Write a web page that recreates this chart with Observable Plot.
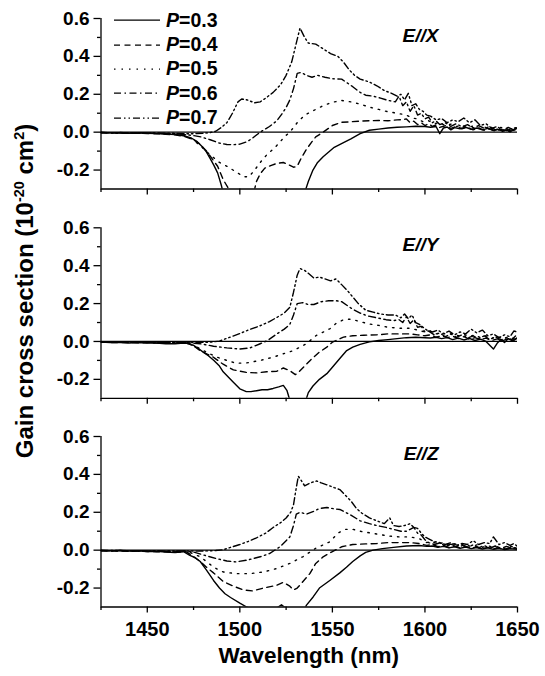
<!DOCTYPE html>
<html>
<head>
<meta charset="utf-8">
<script src="https://cdn.jsdelivr.net/npm/d3@7"></script>
<script src="https://cdn.jsdelivr.net/npm/@observablehq/plot@0.6"></script>
<style>
  html, body { margin: 0; padding: 0; background: #fff; }
  #fig { position: relative; width: 545px; height: 676px; background: #fff; overflow: hidden;
         font-family: "Liberation Sans", Arial, sans-serif; font-weight: bold; color: #000; }
  #fig svg.panel { position: absolute; left: 0; }
  .sup { font-size: 0.6em; position: relative; top: -0.62em; line-height: 0; }
</style>
</head>
<body>
<div id="fig"></div>
<script>
// ---------- tick values and labels ----------
const wavelengthMajorTicks = [1450, 1500, 1550, 1600, 1650];
const wavelengthMinorTicks = [1425, 1475, 1525, 1575, 1625];
const gainMajorTicks = [-0.2, 0, 0.2, 0.4, 0.6];
const gainMinorTicks = [-0.1, 0.1, 0.3, 0.5];
const pumpLevels = ["0.3", "0.4", "0.5", "0.6", "0.7"];
const panelLabels = ["E//X", "E//Y", "E//Z"];

// ---------- E//X : [wavelength (nm), gain cross section (1e-20 cm^2)] ----------
const X_P03 = [[1425,-0.002],[1430,-0.004],[1435,-0.003],[1440,-0.006],[1445,-0.004],[1450,-0.006],[1455,-0.007],[1460,-0.01],[1465,-0.012],[1468,-0.016],[1471,-0.022],[1474,-0.032],[1477,-0.05],[1480,-0.08],[1482,-0.105],[1484,-0.14],[1486,-0.175],[1488,-0.215],[1490,-0.28],[1491,-0.32],[1495,-0.45],[1505,-0.6],[1520,-0.6],[1530,-0.5],[1533,-0.38],[1535,-0.32],[1537,-0.26],[1539.5,-0.2],[1542,-0.16],[1545,-0.13],[1551,-0.08],[1556,-0.055],[1560,-0.035],[1565,-0.008],[1570,0.01],[1575,0.016],[1580,0.022],[1585,0.026],[1590,0.028],[1595,0.031],[1600,0.03],[1603,0.026],[1606,0.03],[1608,-0.008],[1610,0.022],[1612,0.027],[1614,0.012],[1616,0.024],[1619,0.018],[1622,0.026],[1625,0.015],[1628,0.022],[1631,0.012],[1634,0.02],[1637,0.008],[1640,0.015],[1642,0.004],[1644,0.012],[1646,0.002],[1648,0.014],[1650,0.02]];
const X_P04 = [[1425,-0.003],[1430,-0.005],[1435,-0.004],[1440,-0.006],[1445,-0.005],[1450,-0.007],[1455,-0.008],[1460,-0.011],[1465,-0.014],[1470,-0.022],[1475,-0.04],[1478,-0.06],[1482,-0.1],[1485,-0.14],[1488,-0.18],[1491,-0.25],[1494,-0.3],[1497,-0.36],[1503,-0.4],[1507,-0.34],[1509,-0.26],[1511,-0.22],[1513.5,-0.19],[1517,-0.175],[1520,-0.165],[1523.5,-0.16],[1526,-0.17],[1529,-0.185],[1531,-0.18],[1533,-0.14],[1536,-0.09],[1539,-0.05],[1541,-0.025],[1545,0],[1550,0.035],[1555,0.052],[1560,0.055],[1565,0.058],[1570,0.06],[1575,0.062],[1580,0.06],[1585,0.065],[1588,0.066],[1590,0.07],[1592,0.05],[1594,0.058],[1596,0.04],[1598,0.05],[1600,0.035],[1602,0.045],[1604,0.03],[1606,0.038],[1608,0.025],[1611,0.034],[1614,0.02],[1617,0.03],[1620,0.018],[1623,0.026],[1626,0.012],[1629,0.022],[1632,0.01],[1635,0.018],[1638,0.006],[1641,0.015],[1644,0.004],[1647,0.012],[1650,0.016]];
const X_P05 = [[1425,-0.002],[1430,-0.004],[1435,-0.005],[1440,-0.004],[1445,-0.006],[1450,-0.005],[1455,-0.007],[1460,-0.008],[1465,-0.01],[1470,-0.018],[1474,-0.035],[1478.5,-0.07],[1484,-0.12],[1489,-0.16],[1493,-0.18],[1498,-0.21],[1502,-0.235],[1505,-0.235],[1508,-0.2],[1511,-0.16],[1514.5,-0.12],[1518,-0.09],[1521,-0.06],[1524,-0.025],[1527,0],[1531,0.05],[1535,0.09],[1540,0.115],[1545,0.14],[1550,0.158],[1555,0.167],[1560,0.16],[1565,0.148],[1570,0.132],[1575,0.12],[1580,0.108],[1585,0.1],[1590,0.09],[1593,0.075],[1596,0.07],[1599,0.055],[1602,0.06],[1605,0.045],[1608,0.05],[1611,0.035],[1614,0.042],[1617,0.03],[1620,0.036],[1623,0.025],[1626,0.032],[1629,0.02],[1632,0.028],[1635,0.015],[1638,0.022],[1641,0.01],[1644,0.018],[1647,0.008],[1650,0.015]];
const X_P06 = [[1425,-0.002],[1430,-0.003],[1435,-0.005],[1440,-0.004],[1445,-0.006],[1450,-0.005],[1455,-0.006],[1460,-0.007],[1465,-0.008],[1470,-0.012],[1475,-0.018],[1479,-0.025],[1484,-0.04],[1489,-0.058],[1493,-0.065],[1497,-0.066],[1500,-0.063],[1504,-0.05],[1507,-0.03],[1511,0],[1516,0.03],[1520,0.06],[1523,0.1],[1525,0.13],[1527,0.17],[1529,0.23],[1531,0.31],[1533,0.315],[1536,0.3],[1539,0.29],[1542,0.3],[1546,0.29],[1550,0.282],[1555,0.28],[1558,0.26],[1561,0.24],[1565,0.21],[1568,0.195],[1572,0.19],[1576,0.18],[1580,0.168],[1584,0.16],[1586,0.19],[1588,0.14],[1590,0.16],[1592,0.11],[1594,0.14],[1596,0.09],[1598,0.1],[1600,0.07],[1602,0.08],[1604,0.05],[1606,0.06],[1608,0.04],[1611,0.05],[1614,0.03],[1617,0.045],[1620,0.028],[1623,0.04],[1626,0.022],[1629,0.035],[1632,0.02],[1635,0.03],[1638,0.012],[1641,0.025],[1644,0.008],[1647,0.02],[1650,0.025]];
const X_P07 = [[1425,-0.001],[1430,-0.003],[1435,-0.002],[1440,-0.004],[1445,-0.003],[1450,-0.005],[1455,-0.004],[1460,-0.006],[1465,-0.006],[1470,-0.008],[1475,-0.008],[1480,-0.006],[1484,-0.002],[1487,0.005],[1490,0.025],[1493,0.05],[1496,0.1],[1499,0.16],[1501,0.175],[1504,0.17],[1508,0.155],[1511,0.16],[1514,0.18],[1518,0.21],[1522,0.25],[1525,0.3],[1528,0.37],[1530,0.45],[1532.5,0.55],[1535,0.5],[1537,0.47],[1541,0.465],[1545,0.44],[1549,0.415],[1553,0.4],[1556,0.37],[1559,0.33],[1562,0.3],[1565,0.28],[1570,0.265],[1574,0.245],[1578,0.22],[1582,0.205],[1585,0.19],[1587,0.2],[1589,0.17],[1591,0.205],[1593,0.14],[1595,0.15],[1597,0.12],[1599,0.11],[1601,0.09],[1603,0.085],[1606,0.065],[1609,0.072],[1612,0.05],[1615,0.065],[1618,0.055],[1621,0.075],[1624,0.05],[1627,0.065],[1630,0.035],[1633,0.045],[1636,0.02],[1639,0.03],[1642,0.01],[1645,0.025],[1648,0.012],[1650,0.03]];

// ---------- E//Y ----------
const Y_P03 = [[1425,-0.003],[1430,-0.006],[1435,-0.004],[1440,-0.008],[1445,-0.006],[1450,-0.009],[1455,-0.008],[1460,-0.012],[1465,-0.012],[1468,-0.01],[1471,-0.008],[1473,-0.015],[1475,-0.02],[1478,-0.04],[1480,-0.055],[1483,-0.075],[1486,-0.1],[1489,-0.13],[1491,-0.16],[1494,-0.19],[1496.5,-0.215],[1500,-0.25],[1503.5,-0.265],[1506,-0.265],[1509,-0.26],[1512,-0.255],[1515,-0.255],[1518,-0.248],[1521,-0.24],[1523.5,-0.232],[1525.5,-0.26],[1527,-0.31],[1529,-0.45],[1533,-0.45],[1535,-0.33],[1537,-0.27],[1539.5,-0.235],[1543,-0.2],[1547,-0.17],[1550,-0.136],[1554,-0.09],[1557.5,-0.05],[1561,-0.03],[1565,-0.015],[1570,-0.002],[1575,0.005],[1580,0.01],[1585,0.015],[1590,0.02],[1595,0.022],[1600,0.02],[1603,0.018],[1606,0.022],[1609,0.015],[1612,0.02],[1615,0.01],[1618,0.018],[1621,0.008],[1624,0.016],[1627,0.005],[1630,0.012],[1633,0.0],[1635,-0.02],[1637,-0.04],[1639,-0.01],[1641,0.01],[1643,-0.005],[1645,0.015],[1647,0.005],[1650,0.018]];
const Y_P04 = [[1425,-0.003],[1430,-0.005],[1435,-0.006],[1440,-0.005],[1445,-0.007],[1450,-0.006],[1455,-0.008],[1460,-0.009],[1465,-0.01],[1470,-0.008],[1473,-0.012],[1476,-0.03],[1478.5,-0.048],[1482,-0.065],[1486,-0.085],[1491,-0.12],[1496.5,-0.15],[1503.5,-0.163],[1509,-0.166],[1514.5,-0.16],[1520,-0.157],[1523.5,-0.14],[1527,-0.154],[1530,-0.175],[1532,-0.16],[1535,-0.13],[1538,-0.1],[1543,-0.056],[1547,-0.03],[1550,-0.004],[1556,0.023],[1561,0.03],[1567,0.033],[1574,0.035],[1580,0.04],[1586,0.04],[1592,0.04],[1596,0.035],[1600,0.03],[1603,0.035],[1606,0.022],[1609,0.03],[1612,0.02],[1615,0.028],[1618,0.015],[1621,0.025],[1624,0.012],[1627,0.02],[1630,0.01],[1633,0.018],[1636,0.005],[1639,0.014],[1642,0.004],[1645,0.015],[1648,0.006],[1650,0.02]];
const Y_P05 = [[1425,-0.002],[1430,-0.004],[1435,-0.003],[1440,-0.005],[1445,-0.004],[1450,-0.006],[1455,-0.005],[1460,-0.007],[1465,-0.008],[1470,-0.006],[1473,-0.015],[1477,-0.03],[1482,-0.057],[1487.6,-0.083],[1493,-0.1],[1498,-0.115],[1503.7,-0.113],[1511,-0.1],[1518,-0.083],[1523.5,-0.065],[1529,-0.048],[1536,-0.012],[1541,0.03],[1548.6,0.067],[1552,0.095],[1556,0.115],[1560,0.118],[1565,0.105],[1570,0.092],[1575,0.085],[1580,0.075],[1586,0.07],[1592,0.07],[1596,0.06],[1600,0.05],[1603,0.055],[1606,0.04],[1609,0.048],[1612,0.035],[1615,0.042],[1618,0.03],[1621,0.038],[1624,0.025],[1627,0.035],[1630,0.02],[1633,0.03],[1636,0.015],[1639,0.028],[1642,0.012],[1645,0.025],[1648,0.015],[1650,0.03]];
const Y_P06 = [[1425,-0.002],[1430,-0.003],[1435,-0.004],[1440,-0.003],[1445,-0.005],[1450,-0.004],[1455,-0.006],[1460,-0.005],[1465,-0.006],[1470,-0.005],[1474,-0.008],[1478.6,-0.012],[1485.8,-0.025],[1493,-0.034],[1500,-0.04],[1505.5,-0.034],[1511,-0.012],[1515,0.005],[1520,0.04],[1524,0.065],[1527,0.09],[1529,0.14],[1531,0.2],[1534,0.205],[1537,0.195],[1540,0.195],[1544,0.21],[1548,0.215],[1552,0.215],[1555,0.21],[1558,0.19],[1561,0.17],[1565,0.15],[1569,0.135],[1574,0.125],[1579,0.115],[1583,0.11],[1586,0.115],[1588,0.1],[1590,0.13],[1592,0.095],[1594,0.115],[1596,0.075],[1598,0.08],[1600,0.05],[1602,0.055],[1605,0.035],[1608,0.045],[1611,0.025],[1614,0.04],[1617,0.022],[1620,0.035],[1623,0.018],[1626,0.03],[1629,0.015],[1632,0.03],[1635,0.01],[1638,0.025],[1641,0.008],[1644,0.02],[1647,0.01],[1650,0.04]];
const Y_P07 = [[1425,-0.001],[1430,-0.002],[1435,-0.003],[1440,-0.002],[1445,-0.004],[1450,-0.003],[1455,-0.005],[1460,-0.004],[1465,-0.005],[1470,-0.006],[1475,-0.006],[1480,-0.005],[1485,-0.003],[1489,0.002],[1494,0.02],[1500,0.042],[1505,0.062],[1511,0.083],[1516,0.105],[1520,0.127],[1524,0.15],[1527,0.18],[1529,0.26],[1531,0.35],[1532.5,0.385],[1535,0.375],[1537,0.36],[1540,0.335],[1543,0.34],[1546,0.33],[1549,0.32],[1552,0.33],[1555,0.3],[1558,0.27],[1561,0.235],[1564,0.2],[1568,0.165],[1572,0.155],[1576,0.145],[1580,0.14],[1584,0.14],[1587,0.125],[1589,0.145],[1591,0.12],[1593,0.14],[1595,0.1],[1597,0.09],[1599,0.075],[1601,0.06],[1604,0.05],[1607,0.06],[1610,0.04],[1613,0.055],[1616,0.035],[1619,0.05],[1622,0.04],[1625,0.065],[1628,0.045],[1631,0.06],[1634,0.03],[1637,0.04],[1640,0.02],[1643,0.035],[1646,0.025],[1648,0.055],[1650,0.05]];

// ---------- E//Z ----------
const Z_P03 = [[1425,-0.002],[1430,-0.004],[1435,-0.002],[1440,-0.005],[1445,-0.004],[1450,-0.007],[1455,-0.006],[1460,-0.01],[1465,-0.012],[1469.6,-0.008],[1473,-0.027],[1476,-0.04],[1478.6,-0.06],[1482,-0.105],[1485.8,-0.16],[1489,-0.2],[1492,-0.23],[1495,-0.25],[1500,-0.28],[1503.7,-0.3],[1506,-0.31],[1512,-0.315],[1517,-0.31],[1520,-0.305],[1522.5,-0.288],[1524,-0.3],[1526,-0.34],[1530,-0.38],[1534,-0.33],[1536,-0.29],[1539.6,-0.247],[1543,-0.2],[1548.6,-0.16],[1554,-0.12],[1557.6,-0.09],[1561,-0.06],[1565,-0.03],[1568,-0.012],[1572,0],[1577,0.008],[1583,0.015],[1590,0.022],[1597,0.025],[1601,0.02],[1604,0.022],[1607,0.015],[1610,0.02],[1613,0.012],[1616,0.018],[1619,0.01],[1622,0.016],[1625,0.008],[1628,0.014],[1631,0.006],[1634,0.012],[1637,0.004],[1640,0.01],[1643,0.003],[1646,0.008],[1650,0.005]];
const Z_P04 = [[1425,-0.003],[1430,-0.005],[1435,-0.004],[1440,-0.006],[1445,-0.005],[1450,-0.007],[1455,-0.008],[1460,-0.009],[1465,-0.01],[1471.4,-0.01],[1475,-0.035],[1478.6,-0.06],[1482,-0.09],[1485.8,-0.12],[1491,-0.165],[1496.5,-0.19],[1502,-0.21],[1507,-0.215],[1512.7,-0.2],[1520,-0.185],[1523.5,-0.17],[1527,-0.19],[1529,-0.21],[1531,-0.2],[1534,-0.167],[1537.8,-0.124],[1541,-0.07],[1545,-0.035],[1549.5,-0.01],[1555,0.018],[1561,0.03],[1568,0.033],[1574,0.035],[1580,0.04],[1586,0.04],[1592,0.04],[1597,0.035],[1601,0.025],[1604,0.03],[1607,0.018],[1610,0.025],[1613,0.014],[1616,0.022],[1619,0.012],[1622,0.02],[1625,0.01],[1628,0.018],[1631,0.008],[1634,0.015],[1637,0.006],[1640,0.014],[1643,0.005],[1646,0.012],[1650,0.01]];
const Z_P05 = [[1425,-0.002],[1430,-0.003],[1435,-0.004],[1440,-0.003],[1445,-0.005],[1450,-0.004],[1455,-0.006],[1460,-0.005],[1465,-0.006],[1471,-0.003],[1475,-0.02],[1478.6,-0.035],[1482,-0.06],[1485.8,-0.09],[1491,-0.115],[1498,-0.124],[1505.5,-0.124],[1512.7,-0.115],[1520,-0.097],[1527,-0.07],[1534,-0.035],[1541,0.01],[1548.6,0.044],[1553,0.09],[1557,0.11],[1561,0.11],[1566,0.098],[1574,0.085],[1580,0.075],[1586,0.07],[1592,0.07],[1597,0.06],[1601,0.04],[1604,0.045],[1607,0.032],[1610,0.04],[1613,0.025],[1616,0.034],[1619,0.02],[1622,0.03],[1625,0.018],[1628,0.028],[1631,0.015],[1634,0.025],[1637,0.012],[1640,0.02],[1643,0.01],[1646,0.02],[1650,0.012]];
const Z_P06 = [[1425,-0.002],[1430,-0.003],[1435,-0.002],[1440,-0.004],[1445,-0.003],[1450,-0.005],[1455,-0.004],[1460,-0.006],[1465,-0.005],[1470,-0.005],[1475,-0.01],[1482,-0.03],[1487.6,-0.045],[1493,-0.057],[1498,-0.062],[1503.7,-0.053],[1511,-0.035],[1516,-0.018],[1521.7,0.018],[1525,0.05],[1527,0.07],[1529,0.13],[1530.5,0.19],[1532.5,0.2],[1536,0.19],[1540,0.205],[1543,0.22],[1547,0.225],[1551,0.218],[1554,0.215],[1557,0.2],[1560,0.185],[1565,0.155],[1570,0.14],[1574,0.13],[1579,0.12],[1583,0.11],[1587,0.1],[1590,0.1],[1592,0.11],[1594,0.12],[1596,0.09],[1598,0.08],[1600,0.055],[1602,0.04],[1605,0.03],[1608,0.038],[1611,0.022],[1614,0.032],[1617,0.02],[1620,0.03],[1623,0.015],[1626,0.028],[1629,0.012],[1632,0.025],[1635,0.01],[1638,0.022],[1641,0.008],[1644,0.02],[1647,0.01],[1650,0.015]];
const Z_P07 = [[1425,-0.001],[1430,-0.002],[1435,-0.001],[1440,-0.003],[1445,-0.002],[1450,-0.004],[1455,-0.003],[1460,-0.005],[1465,-0.004],[1470,-0.004],[1476,-0.005],[1482,-0.004],[1487,-0.002],[1491,0.002],[1495,0.015],[1500,0.03],[1505,0.048],[1509,0.065],[1514,0.09],[1518,0.12],[1522,0.145],[1525,0.17],[1527.5,0.2],[1529,0.24],[1530.5,0.33],[1531.6,0.39],[1533,0.37],[1535,0.34],[1538,0.355],[1541.5,0.365],[1544,0.355],[1547,0.345],[1551,0.33],[1554,0.32],[1557,0.29],[1560,0.26],[1563,0.22],[1566,0.195],[1570,0.17],[1574,0.155],[1578,0.14],[1581,0.17],[1583,0.13],[1586,0.125],[1589,0.13],[1592,0.14],[1594,0.12],[1596,0.115],[1598,0.09],[1600,0.07],[1602,0.06],[1605,0.045],[1608,0.04],[1611,0.03],[1614,0.04],[1617,0.025],[1620,0.035],[1623,0.03],[1626,0.05],[1629,0.03],[1632,0.04],[1635,0.035],[1637,0.07],[1640,0.03],[1643,0.04],[1646,0.025],[1648,0.035],[1650,0.02]];

// ---------- styling ----------
const FONT = '"Liberation Sans", Arial, Helvetica, sans-serif';
const dashFor = {"0.3": null, "0.4": "6,4.5", "0.5": "1.5,6", "0.6": "7,3.5,1.5,3.5", "0.7": "7,3,1.5,3,1.5,3"};
const LW = 1.4;

const panelSeries = [
  [X_P03, X_P04, X_P05, X_P06, X_P07],
  [Y_P03, Y_P04, Y_P05, Y_P06, Y_P07],
  [Z_P03, Z_P04, Z_P05, Z_P06, Z_P07]
];
const panelLayout = [
  {top: 0,   height: 209, marginTop: 18,   marginBottom: 20.5},
  {top: 209, height: 209, marginTop: 18.3, marginBottom: 20.2},
  {top: 418, height: 258, marginTop: 18,   marginBottom: 69.5}
];

const fig = document.getElementById("fig");

panelLabels.forEach((label, i) => {
  const L = panelLayout[i];
  const isBottom = i === panelLabels.length - 1;
  const lines = panelSeries[i].map((s, k) =>
    Plot.line(s, {stroke: "#000", strokeWidth: LW, strokeDasharray: dashFor[pumpLevels[k]], clip: true})
  );
  const chart = Plot.plot({
    width: 545,
    height: L.height,
    marginLeft: 100.5,
    marginRight: 28,
    marginTop: L.marginTop,
    marginBottom: L.marginBottom,
    style: {fontFamily: FONT, background: "transparent", color: "#000"},
    x: {domain: [1425, 1650], label: null},
    y: {domain: [-0.3, 0.6], label: null},
    marks: [
      Plot.axisY(gainMajorTicks, {tickSize: 7, tickPadding: 4.5, strokeWidth: 1.3, tickFormat: d => d.toFixed(1), fontSize: 19, fontWeight: "bold", label: null}),
      Plot.axisY(gainMinorTicks, {tickSize: 3.5, strokeWidth: 1.3, tickFormat: () => "", label: null}),
      Plot.axisX(wavelengthMajorTicks, {tickSize: 6, tickPadding: 8.3, strokeWidth: 1.3, tickFormat: isBottom ? (d => String(d)) : (() => ""), fontSize: 20, fontWeight: "bold", label: null}),
      Plot.axisX(wavelengthMinorTicks, {tickSize: 3.5, strokeWidth: 1.3, tickFormat: () => "", label: null}),
      Plot.ruleY([0], {stroke: "#000", strokeWidth: 1.3}),
      ...lines,
      Plot.ruleX([1425], {stroke: "#000", strokeWidth: 1.3}),
      Plot.ruleY([-0.3], {stroke: "#000", strokeWidth: 1.3}),
      Plot.text([label], {text: d => d, frameAnchor: "top-right", dx: -79, dy: 23, lineAnchor: "bottom", textAnchor: "end", fontSize: 19, fontWeight: "bold", fontStyle: "italic", fill: "#000"})
    ]
  });
  chart.classList.add("panel");
  chart.style.top = L.top + "px";
  fig.appendChild(chart);
});

// ---------- legend (top panel) ----------
const legend = document.createElement("div");
legend.style.cssText = "position:absolute;left:114px;top:8.4px;";
pumpLevels.forEach(p => {
  const row = document.createElement("div");
  row.style.cssText = "display:flex;align-items:center;height:24.3px;";
  const svgNS = "http://www.w3.org/2000/svg";
  const sw = document.createElementNS(svgNS, "svg");
  sw.setAttribute("width", 46); sw.setAttribute("height", 24.3);
  const ln = document.createElementNS(svgNS, "line");
  ln.setAttribute("x1", 0); ln.setAttribute("x2", 46);
  ln.setAttribute("y1", 12.15); ln.setAttribute("y2", 12.15);
  ln.setAttribute("stroke", "#000"); ln.setAttribute("stroke-width", LW);
  if (dashFor[p]) ln.setAttribute("stroke-dasharray", dashFor[p]);
  sw.appendChild(ln);
  const txt = document.createElement("span");
  txt.style.cssText = "margin-left:6px;font-size:19.5px;font-weight:bold;line-height:1;white-space:nowrap;";
  txt.innerHTML = "<i>P</i>=" + p;
  row.appendChild(sw); row.appendChild(txt);
  legend.appendChild(row);
});
fig.appendChild(legend);

// ---------- axis titles ----------
const ytitle = document.createElement("div");
ytitle.style.cssText = "position:absolute;left:24.8px;top:291px;transform:translate(-50%,-50%) rotate(-90deg);white-space:nowrap;font-size:24px;font-weight:bold;line-height:1;";
ytitle.innerHTML = 'Gain cross section (10<span class="sup">-20</span> cm<span class="sup">2</span>)';
fig.appendChild(ytitle);

const xtitle = document.createElement("div");
xtitle.style.cssText = "position:absolute;left:308.75px;top:645px;transform:translateX(-50%);white-space:nowrap;font-size:22.5px;font-weight:bold;line-height:1;";
xtitle.textContent = "Wavelength (nm)";
fig.appendChild(xtitle);
</script>
</body>
</html>
